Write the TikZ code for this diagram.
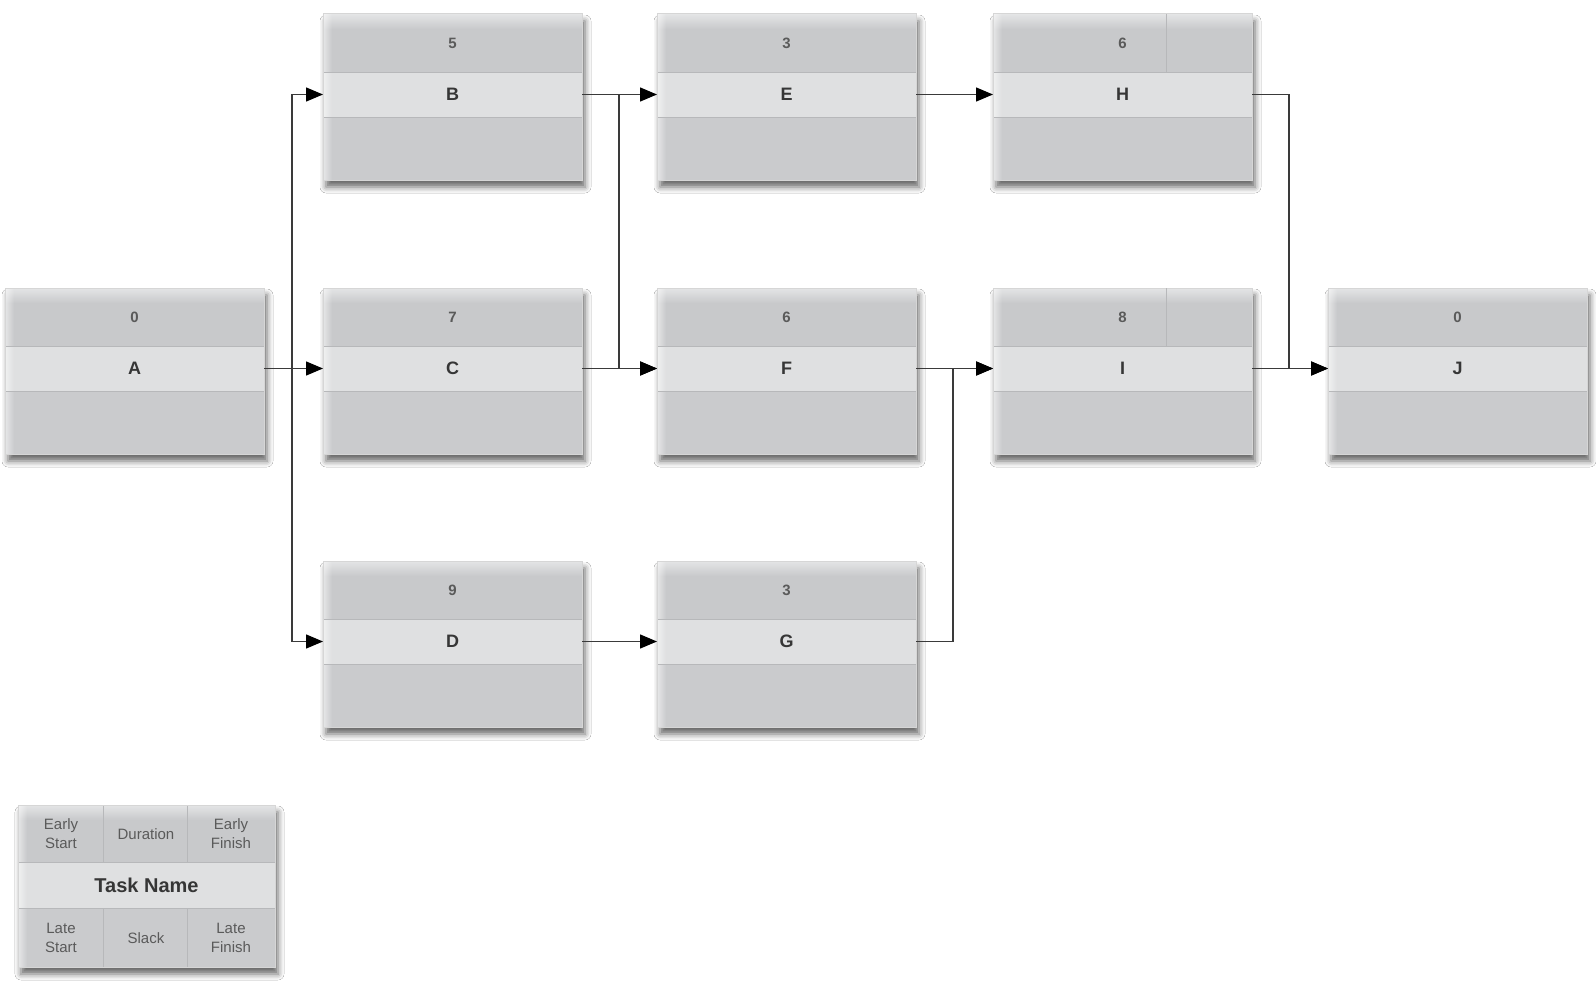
\documentclass[tikz,border=0pt]{standalone}
\usepackage{fontspec}
\setmainfont{Liberation Sans}
\usetikzlibrary{arrows.meta,shadows.blur,fadings}

\definecolor{rowtop}{HTML}{C8C9CB}
\definecolor{rowtoplight}{HTML}{E4E5E6}
\definecolor{rowmid}{HTML}{DFE0E1}
\definecolor{rowbot}{HTML}{CACBCD}
\definecolor{rowline}{HTML}{B7B8BA}
\definecolor{framecol}{HTML}{D6D6D6}
\definecolor{numcol}{HTML}{5A5A5A}
\definecolor{namecol}{HTML}{363636}
\definecolor{linkcol}{HTML}{3A3A3A}

% top row: light rim along the upper edge, then flat grey
\pgfdeclareverticalshading{toprowshade}{100bp}{color(0bp)=(rowtop); color(25bp)=(rowtop); color(62bp)=(rowtop); color(75bp)=(rowtoplight); color(100bp)=(rowtoplight)}

\tikzset{
  cellbase/.style={rectangle, inner sep=0pt, outer sep=0pt, minimum width=259pt},
  toprow/.style={cellbase, minimum height=58pt, shade, shading=toprowshade,
    font=\fontsize{15}{15}\selectfont\bfseries, text=numcol},
  midrow/.style={cellbase, minimum height=45pt, fill=rowmid,
    font=\fontsize{18}{18}\selectfont\bfseries, text=namecol},
  botrow/.style={cellbase, minimum height=63pt, fill=rowbot},
  boxshadow/.style={fill=white, blur shadow={shadow xshift=3pt, shadow yshift=-7pt,
    shadow blur radius=6pt, shadow opacity=60}},
  boxframe/.style={draw=framecol, line width=1pt},
  rowsep/.style={draw=rowline, line width=0.8pt},
  celldiv/.style={draw=rowline, line width=0.8pt},
  edgeglow/.style={fill=white, path fading=east, fill opacity=0.55},
  legtext/.style={align=center, font=\fontsize{15}{19}\selectfont, text=numcol, inner sep=0pt},
  flow/.style={draw=linkcol, line width=1.4pt,
    -{Triangle[length=17pt, width=14pt, color=black]}},
}

% #1 name, #2 left x, #3 top y, #4 duration, #5 task letter
\newcommand\tasknode[5]{%
  \path[boxshadow] (#2,#3) rectangle ++(259,166);
  \node[toprow, anchor=north west] (#1top) at (#2,#3) {#4};
  \node[midrow, anchor=north] (#1) at (#1top.south) {#5};
  \node[botrow, anchor=north] (#1bot) at (#1.south) {};
  \fill[edgeglow] (#1top.north west) rectangle ([xshift=9pt]#1bot.south west);
  \draw[rowsep] (#1top.south west) -- (#1top.south east);
  \draw[rowsep] (#1.south west) -- (#1.south east);
  \draw[boxframe] (#1top.north west) rectangle (#1bot.south east);
}

\begin{document}
\begin{tikzpicture}[x=1pt, y=-1pt]
  \fill[white] (0,0) rectangle (1596,982);
  \useasboundingbox (0,0) rectangle (1596,982);

  % activity boxes
  \tasknode{A}{5}{288}{0}{A}
  \tasknode{B}{323}{14}{5}{B}
  \tasknode{C}{323}{288}{7}{C}
  \tasknode{D}{323}{561}{9}{D}
  \tasknode{E}{657}{14}{3}{E}
  \tasknode{F}{657}{288}{6}{F}
  \tasknode{G}{657}{561}{3}{G}
  \tasknode{H}{993}{14}{6}{H}
  \tasknode{I}{993}{288}{8}{I}
  \tasknode{J}{1328}{288}{0}{J}

  % visible cell borders in the top rows of H and I
  \draw[celldiv] ([xshift=-86pt]Htop.north east) -- ([xshift=-86pt]Htop.south east);
  \draw[celldiv] ([xshift=-86pt]Itop.north east) -- ([xshift=-86pt]Itop.south east);

  % merge / split points of the connectors
  \coordinate (splitA) at (292,0);
  \coordinate (splitB) at (619,0);
  \coordinate (joinI) at (953,0);
  \coordinate (joinJ) at (1289,0);

  % dependencies
  \draw[flow] (A.east) -- (C.west);
  \draw[flow] (splitA |- A.east) |- (B.west);
  \draw[flow] (splitA |- A.east) |- (D.west);
  \draw[flow] (B.east) -- (E.west);
  \draw[flow] (B.east) -| (splitB |- F.west) -- (F.west);
  \draw[flow] (C.east) -- (F.west);
  \draw[flow] (D.east) -- (G.west);
  \draw[flow] (E.east) -- (H.west);
  \draw[flow] (F.east) -- (I.west);
  \draw[flow] (G.east) -| (joinI |- I.west) -- (I.west);
  \draw[flow] (H.east) -| (joinJ |- J.west) -- (J.west);
  \draw[flow] (I.east) -- (J.west);

  % legend box
  \path[boxshadow] (18,805) rectangle ++(257,162);
  \node[toprow, minimum width=257pt, minimum height=57pt, anchor=north west] (legtop) at (18,805) {};
  \node[midrow, minimum width=257pt, minimum height=46pt, anchor=north,
        font=\fontsize{20}{20}\selectfont\bfseries] (legmid) at (legtop.south) {Task Name};
  \node[botrow, minimum width=257pt, minimum height=59pt, anchor=north] (legbot) at (legmid.south) {};
  \fill[edgeglow] (legtop.north west) rectangle ([xshift=9pt]legbot.south west);
  \draw[rowsep] (legtop.south west) -- (legtop.south east);
  \draw[rowsep] (legmid.south west) -- (legmid.south east);
  \draw[celldiv] (103,805) -- (103,862);
  \draw[celldiv] (187,805) -- (187,862);
  \draw[celldiv] (103,908) -- (103,967);
  \draw[celldiv] (187,908) -- (187,967);
  \draw[boxframe] (legtop.north west) rectangle (legbot.south east);

  \node[legtext] (les) at (61,834) {Early\\Start};
  \node[legtext] (ldur) at (146,834) {Duration};
  \node[legtext] (lef) at (231,834) {Early\\Finish};
  \node[legtext] (lls) at (61,938) {Late\\Start};
  \node[legtext] (lsl) at (146,938) {Slack};
  \node[legtext] (llf) at (231,938) {Late\\Finish};
\end{tikzpicture}
\end{document}
